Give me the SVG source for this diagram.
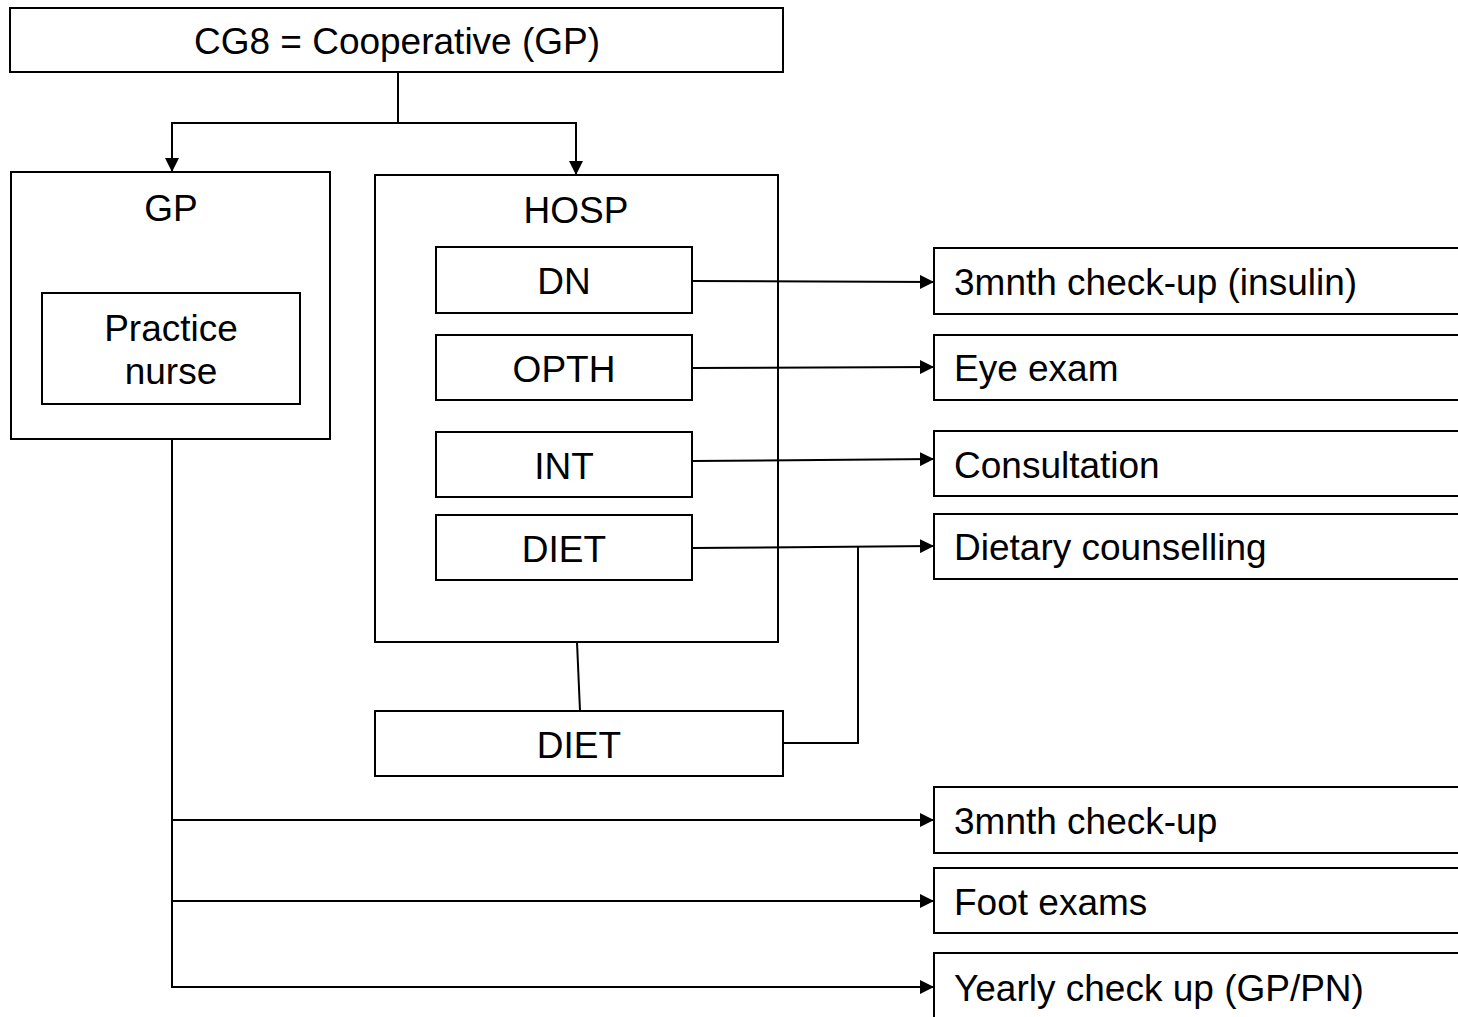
<svg xmlns="http://www.w3.org/2000/svg" width="1458" height="1017" viewBox="0 0 1458 1017">
  <style>
    .box { fill: #ffffff; stroke: #000000; stroke-width: 2; }
    .lbl { font-family: "Liberation Sans", Arial, sans-serif; font-size: 37px; fill: #000000; }
    .mid { text-anchor: middle; }
    .wire { fill: none; stroke: #000000; stroke-width: 2; }
  </style>
  <defs>
    <marker id="head" viewBox="0 0 14 14" refX="14" refY="7" markerWidth="14" markerHeight="14" markerUnits="userSpaceOnUse" orient="auto">
      <path d="M0,0 L14,7 L0,14 Z" fill="#000000"/>
    </marker>
  </defs>

  <g id="cg8">
    <rect class="box" x="10" y="8" width="773" height="64"/>
    <text class="lbl mid" x="397" y="54">CG8 = Cooperative (GP)</text>
  </g>

  <g id="gp">
    <rect class="box" x="11" y="172" width="319" height="267"/>
    <text class="lbl mid" x="171" y="221">GP</text>
  </g>
  <g id="practice-nurse">
    <rect class="box" x="42" y="293" width="258" height="111"/>
    <text class="lbl mid" x="171" y="341">Practice</text>
    <text class="lbl mid" x="171" y="384">nurse</text>
  </g>

  <g id="hosp">
    <rect class="box" x="375" y="175" width="403" height="467"/>
    <text class="lbl mid" x="576" y="223">HOSP</text>
  </g>
  <g id="dn">
    <rect class="box" x="436" y="247" width="256" height="66"/>
    <text class="lbl mid" x="564" y="294">DN</text>
  </g>
  <g id="opth">
    <rect class="box" x="436" y="335" width="256" height="65"/>
    <text class="lbl mid" x="564" y="382">OPTH</text>
  </g>
  <g id="int">
    <rect class="box" x="436" y="432" width="256" height="65"/>
    <text class="lbl mid" x="564" y="479">INT</text>
  </g>
  <g id="diet-hosp">
    <rect class="box" x="436" y="515" width="256" height="65"/>
    <text class="lbl mid" x="564" y="562">DIET</text>
  </g>
  <g id="diet">
    <rect class="box" x="375" y="711" width="408" height="65"/>
    <text class="lbl mid" x="579" y="758">DIET</text>
  </g>

  <g id="checkup-insulin">
    <rect class="box" x="934" y="248" width="540" height="66"/>
    <text class="lbl" x="954" y="295">3mnth check-up (insulin)</text>
  </g>
  <g id="eye-exam">
    <rect class="box" x="934" y="335" width="540" height="65"/>
    <text class="lbl" x="954" y="381">Eye exam</text>
  </g>
  <g id="consultation">
    <rect class="box" x="934" y="431" width="540" height="65"/>
    <text class="lbl" x="954" y="478">Consultation</text>
  </g>
  <g id="dietary-counselling">
    <rect class="box" x="934" y="514" width="540" height="65"/>
    <text class="lbl" x="954" y="560">Dietary counselling</text>
  </g>
  <g id="checkup">
    <rect class="box" x="934" y="787" width="540" height="66"/>
    <text class="lbl" x="954" y="834">3mnth check-up</text>
  </g>
  <g id="foot-exams">
    <rect class="box" x="934" y="868" width="540" height="65"/>
    <text class="lbl" x="954" y="915">Foot exams</text>
  </g>
  <g id="yearly-checkup">
    <rect class="box" x="934" y="953" width="540" height="80"/>
    <text class="lbl" x="954" y="1001">Yearly check up (GP/PN)</text>
  </g>

  <g id="connectors">
    <path class="wire" d="M398,72 V123 H172 V172" marker-end="url(#head)"/>
    <path class="wire" d="M398,123 H576 V175" marker-end="url(#head)"/>
    <path class="wire" d="M692,281 L934,282" marker-end="url(#head)"/>
    <path class="wire" d="M692,368 L934,367" marker-end="url(#head)"/>
    <path class="wire" d="M692,461 L934,459" marker-end="url(#head)"/>
    <path class="wire" d="M692,548 L934,546" marker-end="url(#head)"/>
    <path class="wire" d="M783,743 H858 V546"/>
    <path class="wire" d="M577,642 L580,711"/>
    <path class="wire" d="M172,439 V987 H934" marker-end="url(#head)"/>
    <path class="wire" d="M172,820 H934" marker-end="url(#head)"/>
    <path class="wire" d="M172,901 H934" marker-end="url(#head)"/>
  </g>
</svg>
